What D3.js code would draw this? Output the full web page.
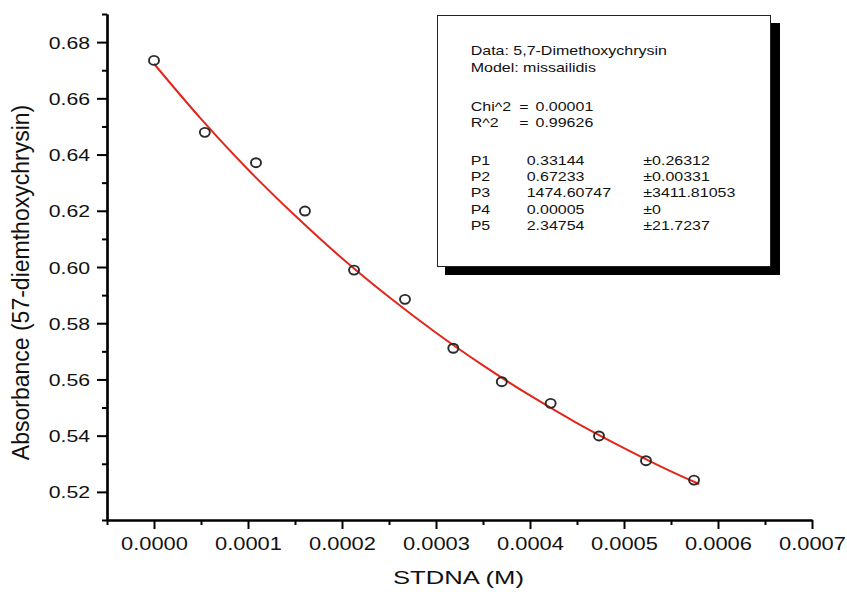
<!DOCTYPE html>
<html>
<head>
<meta charset="utf-8">
<script src="https://cdn.jsdelivr.net/npm/d3@7"></script>
<style>
  html, body { margin: 0; padding: 0; background: #ffffff; }
  svg { display: block; }
  text { font-family: "Liberation Sans", Arial, sans-serif; fill: #111; }
</style>
</head>
<body>
<svg id="chart" width="847" height="592"></svg>
<script>
// ---- data ----
const concentration = [0, 0.0000541, 0.0001085, 0.0001606, 0.0002128, 0.000267, 0.0003184, 0.00037, 0.000422, 0.0004734, 0.0005234, 0.0005745];
const absorbance    = [0.6735, 0.6479, 0.6371, 0.6199, 0.5989, 0.5885, 0.5711, 0.5592, 0.5515, 0.5399, 0.5311, 0.5242];
const fitX = [0, 0.00005, 0.0001, 0.00015, 0.0002, 0.00025, 0.0003, 0.00035, 0.0004, 0.00045, 0.0005, 0.00055, 0.00058];
const fitY = [0.6723, 0.6527, 0.6347, 0.6183, 0.6031, 0.5893, 0.5766, 0.5650, 0.5543, 0.5445, 0.5356, 0.5273, 0.5228];
const yTicks = [0.52, 0.54, 0.56, 0.58, 0.60, 0.62, 0.64, 0.66, 0.68];
const yMinorTicks = [0.51, 0.53, 0.55, 0.57, 0.59, 0.61, 0.63, 0.65, 0.67, 0.69];
const xTicks = [0, 0.0001, 0.0002, 0.0003, 0.0004, 0.0005, 0.0006, 0.0007];
const xMinorTicks = [-0.00005, 0.00005, 0.00015, 0.00025, 0.00035, 0.00045, 0.00055, 0.00065];
const xTitle = "STDNA (M)";
const yTitle = "Absorbance (57-diemthoxychrysin)";
const legendHeader = ["Data: 5,7-Dimethoxychrysin", "Model: missailidis"];
const statNames = ["Chi^2", "R^2"];
const statValues = ["0.00001", "0.99626"];
const paramNames = ["P1", "P2", "P3", "P4", "P5"];
const paramValues = ["0.33144", "0.67233", "1474.60747", "0.00005", "2.34754"];
const paramErrors = ["\u00b10.26312", "\u00b10.00331", "\u00b13411.81053", "\u00b10", "\u00b121.7237"];

// ---- drawing ----
const svg = d3.select("#chart");
const x = d3.scaleLinear().domain([-0.00005, 0.0007]).range([107, 812]);
const y = d3.scaleLinear().domain([0.51, 0.69]).range([520, 14]);
const SX = 1.25; // horizontal stretch of the original raster

// fit line
const line = d3.line().x(d => x(d[0])).y(d => y(d[1])).curve(d3.curveCatmullRom);
svg.append("path")
  .datum(fitX.map((v, i) => [v, fitY[i]]))
  .attr("d", line)
  .attr("fill", "none")
  .attr("stroke", "#e3261b")
  .attr("stroke-width", 2);

// markers
svg.append("g").selectAll("ellipse")
  .data(concentration.map((v, i) => [v, absorbance[i]]))
  .join("ellipse")
  .attr("cx", d => x(d[0]))
  .attr("cy", d => y(d[1]))
  .attr("rx", 5)
  .attr("ry", 4.5)
  .attr("fill", "none")
  .attr("stroke", "#2a2a2a")
  .attr("stroke-width", 1.9);

// y axis
const yAxisG = svg.append("g").attr("transform", "translate(107,0)");
yAxisG.call(d3.axisLeft(y).tickValues(yTicks).tickSize(10).tickSizeOuter(0).tickPadding(7).tickFormat(d3.format(".2f")));
yAxisG.append("g").call(d3.axisLeft(y).tickValues(yMinorTicks).tickSize(5).tickSizeOuter(0).tickFormat(""));
yAxisG.selectAll("text")
  .attr("x", -17 / SX)
  .attr("dy", null)
  .attr("y", 6)
  .attr("transform", `scale(${SX},1)`)
  .style("font-size", "17px")
  .style("font-family", "'Liberation Sans', Arial, sans-serif")
  .attr("fill", "#111");

// x axis
const xAxisG = svg.append("g").attr("transform", "translate(0,520)");
xAxisG.call(d3.axisBottom(x).tickValues(xTicks).tickSize(9).tickSizeOuter(0).tickPadding(8).tickFormat(d3.format(".4f")));
xAxisG.append("g").call(d3.axisBottom(x).tickValues(xMinorTicks).tickSize(5).tickSizeOuter(0).tickFormat(""));
xAxisG.selectAll("text")
  .attr("dy", null)
  .attr("y", 30.5)
  .attr("transform", `scale(${SX},1)`)
  .attr("x", 0)
  .style("font-size", "17.5px")
  .style("font-family", "'Liberation Sans', Arial, sans-serif")
  .attr("fill", "#111");

svg.selectAll(".domain").style("stroke", "#000").style("stroke-width", "2.2px");
svg.selectAll(".tick line").style("stroke", "#000").style("stroke-width", "2px");

// axis titles
svg.append("g").attr("transform", `translate(458.5,584) scale(1.35,1)`)
  .append("text").attr("text-anchor", "middle").style("font-size", "19px").text(xTitle);
svg.append("text")
  .attr("transform", "translate(28.5,282.5) rotate(-90)")
  .attr("text-anchor", "middle")
  .style("font-size", "23px")
  .text(yTitle);

// legend box with shadow
svg.append("rect").attr("x", 445).attr("y", 23).attr("width", 335).attr("height", 252).attr("fill", "#000");
svg.append("rect").attr("x", 437.5).attr("y", 15.5).attr("width", 333).attr("height", 251).attr("fill", "#fff").attr("stroke", "#222").attr("stroke-width", 1);

const LS = 13, LSX = 1.23;
function legendText(tx, ty, str) {
  svg.append("g").attr("transform", `translate(${tx},${ty}) scale(${LSX},1)`)
    .append("text").style("font-size", LS + "px").text(str);
}
const headerY = [55.3, 71.5];
legendHeader.forEach((s, i) => legendText(470.7, headerY[i], s));
const statY = [110.7, 127];
statNames.forEach((s, i) => {
  legendText(470.7, statY[i], s);
  legendText(519.3, statY[i], "=");
  legendText(535.5, statY[i], statValues[i]);
});
const paramY = [164.7, 181, 197.3, 213.5, 229.7];
paramNames.forEach((s, i) => {
  legendText(470.7, paramY[i], s);
  legendText(526.7, paramY[i], paramValues[i]);
  legendText(643.3, paramY[i], paramErrors[i]);
});
</script>
</body>
</html>
